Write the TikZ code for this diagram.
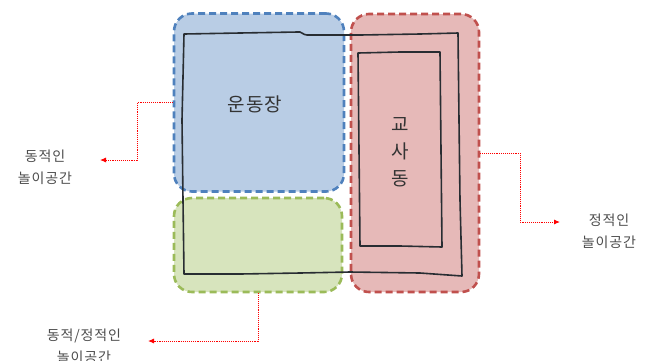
\documentclass[tikz,border=0pt]{standalone}
\usepackage{fontspec}
\newfontfamily\kr{Noto Sans CJK KR}[LetterSpace=6]
\usetikzlibrary{arrows.meta}
\definecolor{bfill}{RGB}{185,205,229}
\definecolor{bdraw}{RGB}{79,129,189}
\definecolor{rfill}{RGB}{230,185,184}
\definecolor{rdraw}{RGB}{192,80,77}
\definecolor{gfill}{RGB}{215,228,189}
\definecolor{gdraw}{RGB}{155,187,89}
\definecolor{ink}{RGB}{40,45,50}
\tikzset{
  zone/.style={rectangle, rounded corners=18pt, line width=2.6pt, dash pattern=on 7pt off 4pt, inner sep=0pt},
  hand/.style={draw=ink, line width=1.6pt, line join=round},
  pointer/.style={draw=red, densely dotted, line width=0.9pt, -{Latex[length=6pt,width=5pt]}},
  lbl/.style={font=\kr\fontsize{14}{22}\selectfont, text=black!70, align=center}
}
\begin{document}
\begin{tikzpicture}[x=1pt,y=-1pt]
\useasboundingbox (0,0) rectangle (661,360);
\node[zone, fill=bfill, draw=bdraw, minimum width=170pt, minimum height=178pt] (blue) at (259,102.5) {};
\node[zone, fill=gfill, draw=gdraw, minimum width=168pt, minimum height=94pt] (green) at (258,245) {};
\node[zone, fill=rfill, draw=rdraw, minimum width=128pt, minimum height=278pt] (red) at (415,153) {};
% hand drawn rectangles
\draw[hand] (184,34) -- (240,33) -- (298,32) .. controls (301,31) and (303,35) .. (307,35) -- (360,35) -- (420,34) -- (458,33)
  -- (459,120) -- (460,200) -- (462,276) -- (420,273) -- (350,272) -- (300,273) -- (240,274) -- (184,274)
  -- (183,200) -- (182,120) -- cycle;
\draw[hand] (358,53) -- (400,52) -- (440,52) -- (441,150) -- (442,247) -- (400,246) -- (360,246) -- (359,150) -- cycle;
% texts
\node[font=\kr\fontsize{19}{19}\selectfont, text=black!80] (t1) at (255,104) {운동장};
\node[font=\kr\fontsize{19}{27}\selectfont, text=black!80, align=center] (t2) at (400,152) {교\\사\\동};
% labels
\node[lbl] (l1) at (45,167) {동적인\\놀이공간};
\node[lbl] (l2) at (84,346) {동적/정적인\\놀이공간};
\node[lbl] (l3) at (609,231) {정적인\\놀이공간};
\coordinate (e1) at (100,160);
\coordinate (e2) at (148,341);
\coordinate (e3) at (560,222);
\draw[pointer] (blue.west) -- (137,102.5) |- (e1);
\draw[pointer] (green.south) |- (e2);
\draw[pointer] (red.east) -- (520,153) |- (e3);
\end{tikzpicture}
\end{document}
